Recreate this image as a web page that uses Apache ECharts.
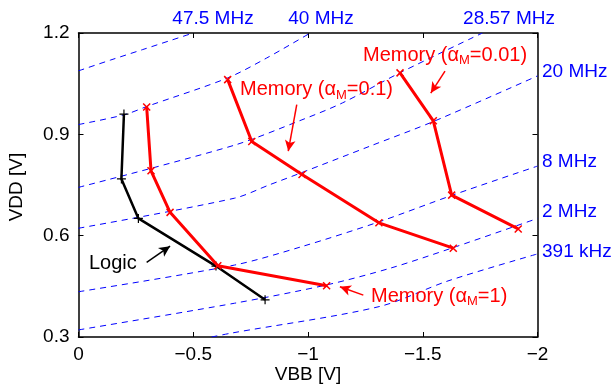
<!DOCTYPE html>
<html>
<head>
<meta charset="utf-8">
<script src="https://cdn.jsdelivr.net/npm/echarts@6/dist/echarts.min.js"></script>
<style>
html,body{margin:0;padding:0;background:#fff;}
#c{width:615px;height:389px;}
</style>
</head>
<body>
<div id="c"></div>
<script>
// ---- data (VBB [V], VDD [V]) ----
const xTicks = [0, -0.5, -1, -1.5, -2];
const yTicks = [0.3, 0.6, 0.9, 1.2];

const logic = [[-0.198,0.960],[-0.187,0.768],[-0.261,0.651],[-0.599,0.510],[-0.813,0.410]];
const memA1 = [[-0.297,0.981],[-0.316,0.792],[-0.399,0.669],[-0.607,0.511],[-1.081,0.452]];
const memA01 = [[-0.650,1.062],[-0.755,0.879],[-0.974,0.781],[-1.309,0.638],[-1.633,0.563]];
const memA001 = [[-1.401,1.082],[-1.546,0.940],[-1.626,0.720],[-1.916,0.620]];

// iso-frequency curves
const freqNames = ['47.5 MHz','40 MHz','28.57 MHz','20 MHz','8 MHz','2 MHz','391 kHz'];
const f475 = [[0,1.088],[-0.14,1.12],[-0.28,1.151],[-0.5,1.2]];
const f40 = [[0,0.929],[-0.2,0.958],[-0.3,0.983],[-0.65,1.067],[-0.82,1.126],[-1.01,1.2]];
const f2857 = [[0,0.743],[-0.68,0.868],[-0.97,0.942],[-1.15,0.993],[-1.4,1.082],[-1.76,1.2]];
const f20 = [[0,0.622],[-0.68,0.711],[-0.83,0.75],[-0.97,0.786],[-1.27,0.865],[-1.55,0.939],[-2,1.073]];
const f8 = [[0,0.434],[-0.68,0.513],[-0.97,0.567],[-1.31,0.641],[-1.63,0.72],[-2,0.806]];
const f2 = [[0,0.321],[-0.68,0.4],[-1.08,0.454],[-1.36,0.504],[-1.63,0.564],[-2,0.651]];
const f391 = [[-0.58,0.3],[-0.67,0.312],[-1.31,0.39],[-1.61,0.466],[-2,0.546]];
const freqCurves = [f475,f40,f2857,f20,f8,f2,f391];

// annotation arrows [from, to]
const arrowA01 = [[-0.951,0.988],[-0.914,0.850]];
const arrowA001 = [[-1.597,1.087],[-1.535,1.022]];
const arrowA1 = [[-1.241,0.424],[-1.139,0.449]];
const arrowLogic = [[-0.297,0.521],[-0.399,0.569]];

// ---- chart ----
const FONT = '"Liberation Sans", Arial, Helvetica, sans-serif';
const FS = 19;
const FA = 20;
const chart = echarts.init(document.getElementById('c'), null, {renderer:'canvas'});

const xfmt = v => v === 0 ? '0' : '\u2212' + Math.abs(v);
const axisCommon = {
  axisLine:{show:true, onZero:false, lineStyle:{color:'#000', width:1.5}},
  axisTick:{show:true, inside:true, length:5, lineStyle:{color:'#000', width:1}},
  splitLine:{show:false}
};

const X = 'path://M0,0L10,10M10,0L0,10';
const PLUS = 'path://M5,0L5,10M0,5L10,5';

const series = [];
freqCurves.forEach((d,i)=>{
  series.push({
    type:'line', name:freqNames[i], data:d, symbol:'none', smooth:0.3,
    lineStyle:{color:'#0000ff', width:1, type:[6,5]}, z:1, silent:true
  });
});
function arrowLine(a){
  return [{coord:a[0], symbol:'none'},{coord:a[1], symbol:'arrow', symbolSize:[8,11]}];
}
series.push({
  type:'line', data:logic, symbol:PLUS, symbolSize:9, showAllSymbol:true,
  lineStyle:{color:'#000', width:2.5}, itemStyle:{color:'#000', borderColor:'#000', borderWidth:1.2}, z:3,
  markLine:{silent:true, symbol:['none','arrow'], label:{show:false},
    lineStyle:{color:'#000', width:1.5, type:'solid'}, data:[arrowLine(arrowLogic)]}
});
[memA1, memA01, memA001].forEach((d,i)=>{
  const arr = [arrowA1, arrowA01, arrowA001][i];
  series.push({
    type:'line', data:d, symbol:X, symbolSize:7, showAllSymbol:true,
    lineStyle:{color:'#ff0000', width:3}, itemStyle:{color:'#ff0000', borderColor:'#ff0000', borderWidth:1.5}, z:4,
    markLine:{silent:true, symbol:['none','arrow'], label:{show:false},
      lineStyle:{color:'#ff0000', width:1.5, type:'solid'}, data:[arrowLine(arr)]}
  });
});

function richText(x, y, before, sub, after, color){
  return {
    type:'text', x:x, y:y, z:10,
    style:{
      text:'{n|'+before+'}{s|'+sub+'}{n|'+after+'}',
      fill:color, align:'left', verticalAlign:'middle',
      rich:{
        n:{fontSize:FA, fontFamily:FONT, fill:color, lineHeight:24},
        s:{fontSize:13, fontFamily:FONT, fill:color, lineHeight:24, verticalAlign:'bottom'}
      }
    }
  };
}
function txt(x,y,t,color,align,rot,fs){
  return {type:'text', x:x, y:y, rotation:rot||0, z:10,
    style:{text:t, fill:color, font:(fs||FS)+'px '+FONT, align:align||'center', verticalAlign:'middle'}};
}

const option = {
  animation:false,
  backgroundColor:'#fff',
  grid:{left:78.5, top:33, width:459, height:304, containLabel:false},
  xAxis:[
    Object.assign({type:'value', min:-2, max:0, interval:0.5, inverse:true, position:'bottom',
      axisLabel:{color:'#000', fontSize:FS, fontFamily:FONT, margin:8, formatter:xfmt}}, axisCommon),
    Object.assign({type:'value', min:-2, max:0, interval:0.5, inverse:true, position:'top',
      axisLabel:{show:false}}, axisCommon)
  ],
  yAxis:[
    Object.assign({type:'value', min:0.3, max:1.2, interval:0.3, position:'left',
      axisLabel:{color:'#000', fontSize:FS, fontFamily:FONT, margin:9, formatter:v=>v.toFixed(1)}}, axisCommon),
    Object.assign({type:'value', min:0.3, max:1.2, interval:0.3, position:'right',
      axisLabel:{show:false}}, axisCommon)
  ],
  series:series,
  graphic:[
    txt(308, 375, 'VBB [V]', '#000'),
    txt(17, 187, 'VDD [V]', '#000', 'center', Math.PI/2),
    txt(213, 18.5, freqNames[0], '#0000ff'),
    txt(321, 18.5, freqNames[1], '#0000ff'),
    txt(509, 18.5, freqNames[2], '#0000ff'),
    txt(542, 72, freqNames[3], '#0000ff', 'left'),
    txt(542, 161.5, freqNames[4], '#0000ff', 'left'),
    txt(542, 211.5, freqNames[5], '#0000ff', 'left'),
    txt(542, 252, freqNames[6], '#0000ff', 'left'),
    txt(89, 263, 'Logic', '#000', 'left', 0, FA),
    richText(363, 55, 'Memory (\u03b1', 'M', '=0.01)', '#ff0000'),
    richText(240, 89.5, 'Memory (\u03b1', 'M', '=0.1)', '#ff0000'),
    richText(371, 296, 'Memory (\u03b1', 'M', '=1)', '#ff0000')
  ]
};
chart.setOption(option);
</script>
</body>
</html>
